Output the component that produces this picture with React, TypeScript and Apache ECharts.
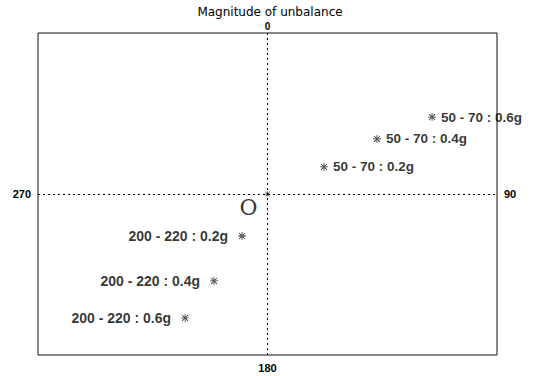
import React, { useEffect, useRef } from "react";
import * as echarts from "echarts";

const title = "Magnitude of unbalance";
const groupA = ["50 - 70 : 0.2g", "50 - 70 : 0.4g", "50 - 70 : 0.6g"];
const groupAx = [0.246, 0.477, 0.717];
const groupAy = [0.168, 0.342, 0.478];
const groupB = ["200 - 220 : 0.2g", "200 - 220 : 0.4g", "200 - 220 : 0.6g"];
const groupBx = [-0.111, -0.233, -0.359];
const groupBy = [-0.261, -0.54, -0.77];
const originLabel = "O";
const angleTop = "0";
const angleRight = "90";
const angleBottom = "180";
const angleLeft = "270";

const star =
  "path://M4.5,0h1v10h-1zM0,4.5h10v1h-10zM1,1.7L1.7,1L9,8.3L8.3,9zM9,1.7L8.3,1L1,8.3L1.7,9z";

export default function App() {
  const ref = useRef<HTMLDivElement>(null);
  useEffect(() => {
    const chart = echarts.init(ref.current!, null, { renderer: "svg" });
    const onlyZero = (txt: string) => (v: number) => (Math.abs(v) < 1e-9 ? txt : "");
    const labelFont = {
      fontFamily: "Liberation Sans, Arial, sans-serif",
      fontWeight: "bold" as const,
      fontSize: 11,
      color: "#000",
    };
    const mkAxisX = (pos: string, txt: string) => ({
      type: "value",
      position: pos,
      min: -1,
      max: 1,
      interval: 1,
      axisLine: { show: false },
      axisTick: { show: false },
      splitLine: { show: false },
      axisLabel: {
        ...labelFont,
        fontSize: pos === "top" ? 10 : 11,
        lineHeight: pos === "top" ? 10 : 12,
        margin: pos === "top" ? 2 : 7,
        formatter: onlyZero(txt),
      },
    });
    const mkAxisY = (pos: string, txt: string) => ({
      type: "value",
      position: pos,
      min: -1,
      max: 1,
      interval: 1,
      axisLine: { show: false },
      axisTick: { show: false },
      splitLine: { show: false },
      axisLabel: { ...labelFont, margin: 7, formatter: onlyZero(txt) },
    });
    chart.setOption({
      animation: false,
      backgroundColor: "#fff",
      title: {
        text: title,
        left: 268,
        textAlign: "center",
        top: 3,
        padding: 2,
        textStyle: {
          fontFamily: "DejaVu Sans, sans-serif",
          fontWeight: "normal",
          fontSize: 12,
          lineHeight: 13,
          color: "#000",
        },
      },
      grid: {
        left: 38,
        right: 36,
        top: 33,
        bottom: 21,
        show: true,
        borderColor: "#111",
        borderWidth: 1,
        backgroundColor: "transparent",
      },
      xAxis: [mkAxisX("bottom", angleBottom), mkAxisX("top", angleTop)],
      yAxis: [mkAxisY("left", angleLeft), mkAxisY("right", angleRight)],
      series: [
        {
          type: "scatter",
          symbol: star,
          symbolSize: 8,
          itemStyle: { color: "#000" },
          data: groupA.map((n, i) => ({ name: n, value: [groupAx[i], groupAy[i]] })),
          label: {
            show: true,
            position: "right",
            distance: 5,
            formatter: "{b}",
            ...labelFont,
            fontSize: 13.5,
          },
        },
        {
          type: "scatter",
          symbol: star,
          symbolSize: 8,
          itemStyle: { color: "#000" },
          data: groupB.map((n, i) => ({ name: n, value: [groupBx[i], groupBy[i]] })),
          label: {
            show: true,
            position: "left",
            distance: 10,
            formatter: "{b}",
            ...labelFont,
            fontSize: 14,
          },
        },
        {
          type: "scatter",
          symbol: star,
          symbolSize: 6,
          itemStyle: { color: "#000" },
          data: [{ name: originLabel, value: [0, 0] }],
          label: {
            show: true,
            position: "left",
            offset: [-2, 13],
            formatter: "{b}",
            fontFamily: "DejaVu Serif, Liberation Serif, serif",
            fontSize: 22,
            color: "#000",
          },
          markLine: {
            silent: true,
            symbol: "none",
            label: { show: false },
            lineStyle: { color: "#000", type: [2, 3], width: 1 },
            data: [{ xAxis: 0 }, { yAxis: 0 }],
          },
        },
      ],
    });
    return () => chart.dispose();
  }, []);
  return (
    <div
      ref={ref}
      style={{ position: "absolute", left: 0, top: 0, width: 533, height: 376 }}
    />
  );
}
